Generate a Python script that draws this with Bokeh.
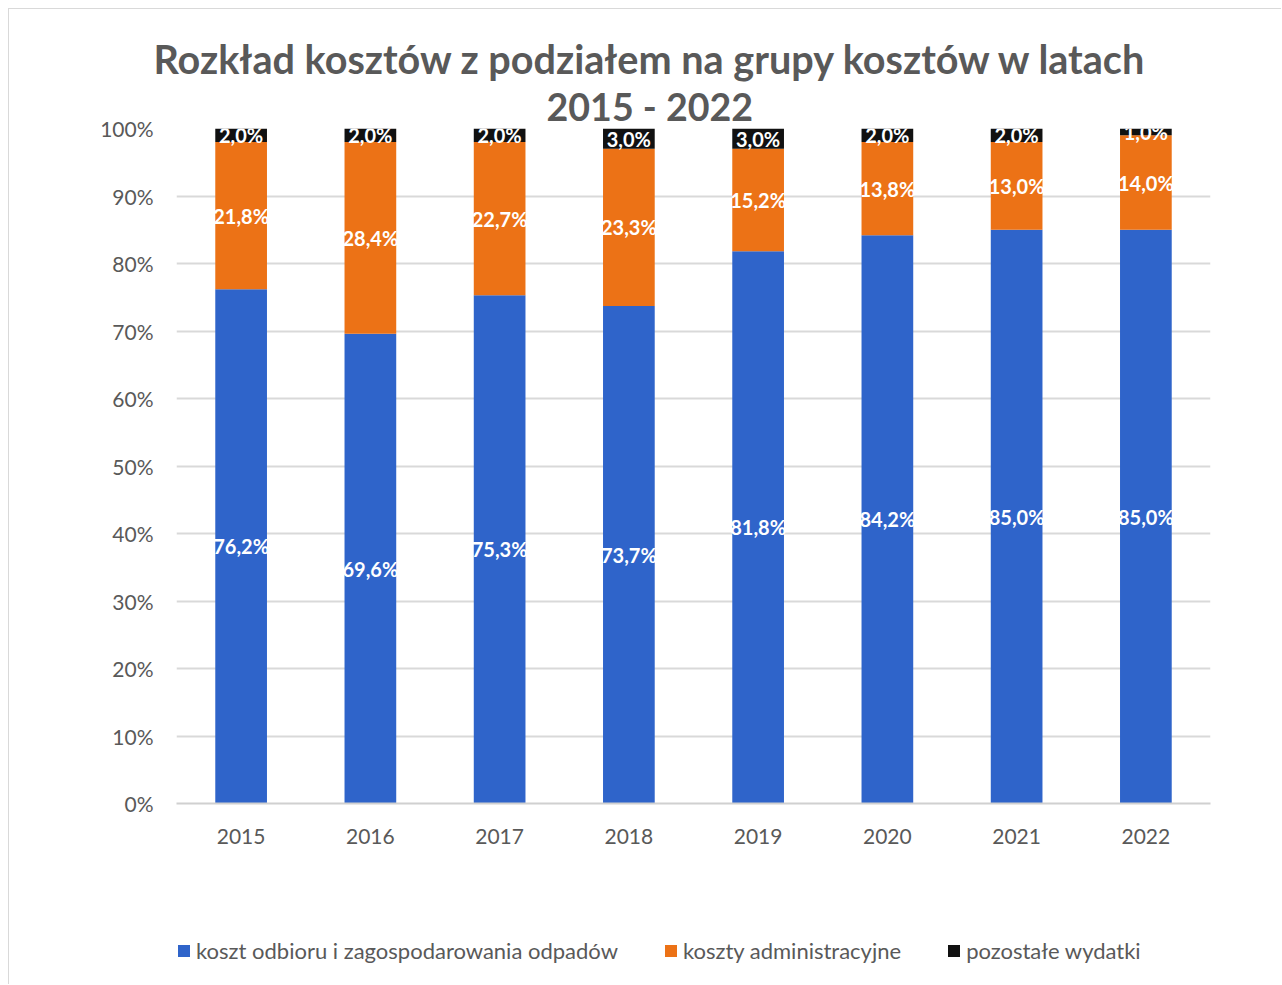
from bokeh.plotting import figure
from bokeh.layouts import column
from bokeh.models import (ColumnDataSource, FactorRange, Range1d, FixedTicker,
                          PrintfTickFormatter, Legend, LegendItem, LabelSet, Title)
from bokeh.core.properties import value
from bokeh.embed import file_html
from bokeh.resources import INLINE

years = ["2015", "2016", "2017", "2018", "2019", "2020", "2021", "2022"]
odbior = [76.2, 69.6, 75.3, 73.7, 81.8, 84.2, 85.0, 85.0]
admin = [21.8, 28.4, 22.7, 23.3, 15.2, 13.8, 13.0, 14.0]
pozostale = [2.0, 2.0, 2.0, 3.0, 3.0, 2.0, 2.0, 1.0]
series_names = ["koszt odbioru i zagospodarowania odpadów", "koszty administracyjne", "pozostałe wydatki"]
colors = ["#2F64CA", "#EC7216", "#111111"]
title_lines = ["Rozkład kosztów z podziałem na grupy kosztów w latach", "2015 - 2022"]
y_ticks = [0, 10, 20, 30, 40, 50, 60, 70, 80, 90, 100]

FONT = "Lato"
GRAY = "#595959"
W = 1272

def fmt(v):
    return ("%.1f" % v).replace(".", ",") + "%"

src = ColumnDataSource(dict(
    year=years, odbior=odbior, admin=admin, pozostale=pozostale,
))

p = figure(x_range=FactorRange(*years, range_padding=0), y_range=Range1d(0, 100),
           width=W, height=871, output_backend="svg", toolbar_location=None,
           min_border_left=167, min_border_right=71, min_border_top=119, min_border_bottom=77)
p.outline_line_color = None
p.background_fill_color = "white"

renderers = p.vbar_stack(["odbior", "admin", "pozostale"], x="year", width=0.4, source=src,
                         color=colors, line_color=None)

# data labels centred in each segment
lab_x, lab_y, lab_t = [], [], []
for i, y in enumerate(years):
    base = 0.0
    for vals in (odbior, admin, pozostale):
        v = vals[i]
        lab_x.append(y)
        lab_y.append(base + v / 2.0)
        lab_t.append(fmt(v))
        base += v
lsrc = ColumnDataSource(dict(x=lab_x, y=lab_y, t=lab_t))
p.add_layout(LabelSet(x="x", y="y", text="t", source=lsrc, text_align="center",
                      text_baseline="middle", text_color="white", text_font=value(FONT),
                      text_font_style="bold", text_font_size="20px"))

# axes
p.yaxis.ticker = FixedTicker(ticks=y_ticks)
p.yaxis.formatter = PrintfTickFormatter(format="%d%%")
p.yaxis.axis_line_color = None
p.yaxis.major_tick_line_color = None
p.yaxis.minor_tick_line_color = None
p.yaxis.major_label_text_font = FONT
p.yaxis.major_label_text_font_size = "21px"
p.yaxis.major_label_text_color = GRAY
p.yaxis.major_label_standoff = 17

p.xaxis.axis_line_color = "#d0d0d0"
p.xaxis.axis_line_width = 2
p.xaxis.major_tick_line_color = None
p.xaxis.minor_tick_line_color = None
p.xaxis.major_label_text_font = FONT
p.xaxis.major_label_text_font_size = "21px"
p.xaxis.major_label_text_color = GRAY
p.xaxis.major_label_standoff = 19

p.xgrid.grid_line_color = None
p.ygrid.ticker = FixedTicker(ticks=y_ticks)
p.ygrid.grid_line_color = "#d9d9d9"
p.ygrid.grid_line_width = 2

# title: two lines, placed in the panel above the frame
p.add_layout(Title(text=title_lines[1], align="left", offset=370, standoff=0,
                   text_font=FONT, text_font_style="bold", text_font_size="37.6px",
                   text_color=GRAY), "above")
p.add_layout(Title(text=title_lines[0], align="left", offset=-23, standoff=0,
                   text_font=FONT, text_font_style="bold", text_font_size="39.6px",
                   text_color=GRAY), "above")

# legend strip below the chart
nan = float("nan")
lf = figure(width=W, height=104, output_backend="svg", toolbar_location=None,
            x_axis_type=None, y_axis_type=None, x_range=Range1d(0, 1), y_range=Range1d(0, 1),
            min_border=0)
lf.outline_line_color = None
lf.xgrid.grid_line_color = None
lf.ygrid.grid_line_color = None
leg_rs = [lf.vbar(x=[nan], top=[nan], width=0.1, color=c, line_color=None) for c in colors]
legend = Legend(items=[LegendItem(label=n, renderers=[r], index=0) for n, r in zip(series_names, leg_rs)],
                orientation="horizontal", location=(0, 20), padding=0, margin=0,
                spacing=45, glyph_width=15, glyph_height=15, label_standoff=5,
                label_text_font=FONT, label_text_font_size="22px", label_text_color=GRAY,
                border_line_color=None, background_fill_alpha=0)
lf.add_layout(legend, "center")

layout = column(p, lf, spacing=0,
                styles={"margin-left": "8px", "margin-top": "8px",
                        "border-left": "1px solid #d9d9d9", "border-top": "1px solid #d9d9d9"})

open("out.html", "w").write(file_html(layout, INLINE))
